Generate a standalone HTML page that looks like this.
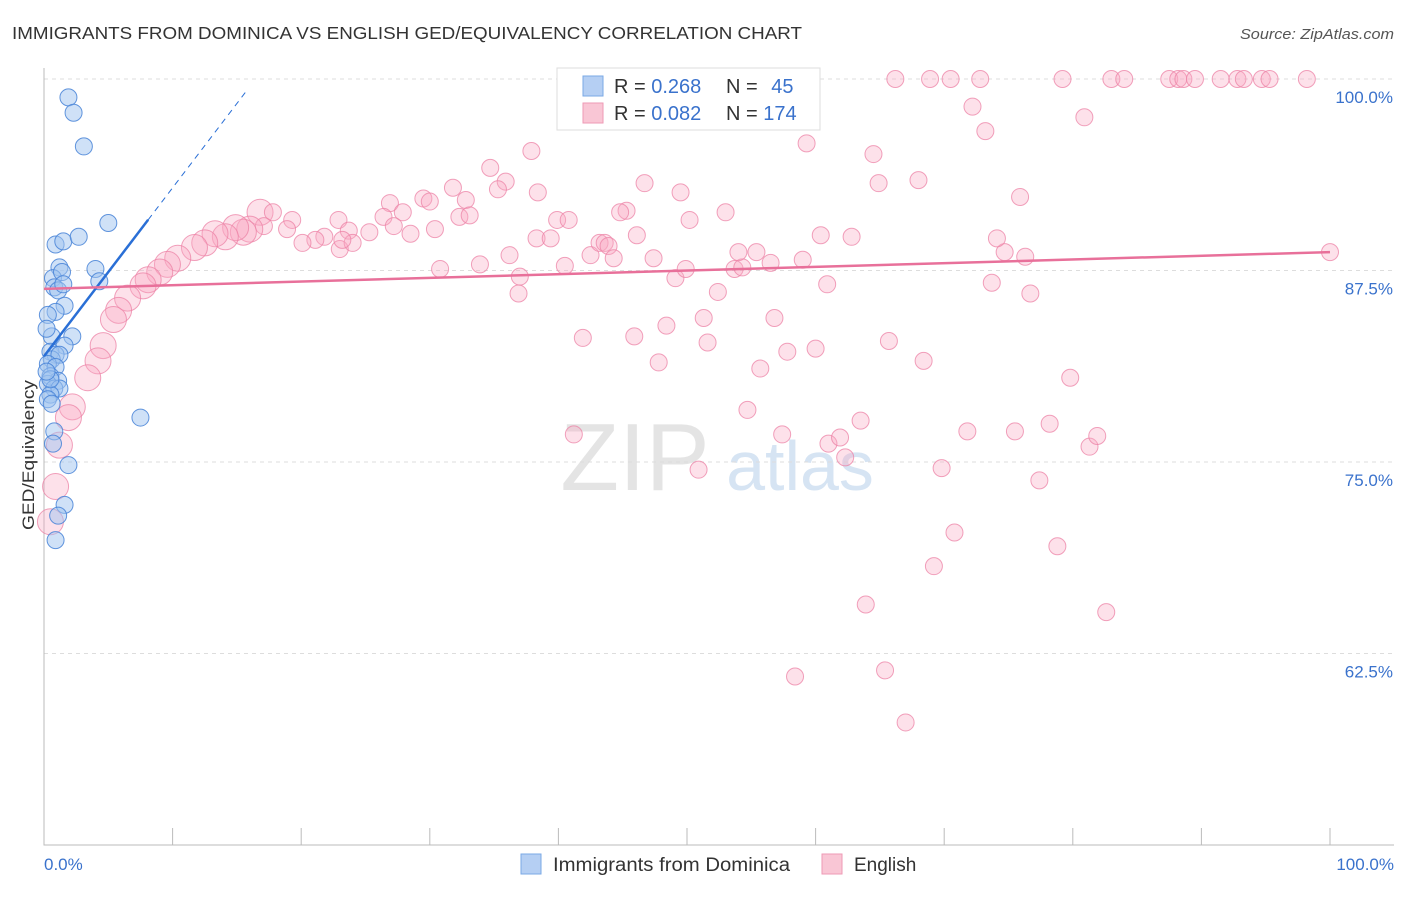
<!DOCTYPE html>
<html><head><meta charset="utf-8"><style>
body{margin:0;background:#fff;font-family:"Liberation Sans",sans-serif}
svg text{font-family:"Liberation Sans",sans-serif}
</style></head><body>
<svg id="chart" width="1406" height="892" xmlns="http://www.w3.org/2000/svg">
<text x="12" y="39" font-size="17.5" fill="#333" textLength="790" lengthAdjust="spacingAndGlyphs">IMMIGRANTS FROM DOMINICA VS ENGLISH GED/EQUIVALENCY CORRELATION CHART</text>
<text x="1394" y="39" font-size="14.5" fill="#555" text-anchor="end" font-style="italic" textLength="154" lengthAdjust="spacingAndGlyphs">Source: ZipAtlas.com</text>
<text x="34" y="455" font-size="17" fill="#333" text-anchor="middle" transform="rotate(-90 34 455)" textLength="150" lengthAdjust="spacingAndGlyphs">GED/Equivalency</text>
<g><text x="635" y="490" font-size="96" fill="#e4e4e4" font-family="Liberation Serif" text-anchor="middle">ZIP</text><text x="800" y="490" font-size="70" fill="#d6e4f3" text-anchor="middle">atlas</text></g>
<g id="grid"></g><g id="axes"></g><g id="pts"></g><g id="trend"></g>
<g>
<rect x="557" y="68" width="263" height="62" fill="#fff" stroke="#ddd"/>
<rect x="583" y="76" width="20" height="20" fill="#b5cff3" stroke="#7aa8e6"/>
<rect x="583" y="103" width="20" height="20" fill="#f9c6d5" stroke="#ee9ab5"/>
<text x="614" y="93" font-size="20" fill="#333">R = <tspan fill="#3a72cc">0.268</tspan></text>
<text x="726" y="93" font-size="20" fill="#333">N = <tspan fill="#3a72cc" dx="8">45</tspan></text>
<text x="614" y="120" font-size="20" fill="#333">R = <tspan fill="#3a72cc">0.082</tspan></text>
<text x="726" y="120" font-size="20" fill="#333">N = <tspan fill="#3a72cc">174</tspan></text>
</g>
<g>
<rect x="521" y="854" width="20" height="20" fill="#b5cff3" stroke="#7aa8e6"/>
<text x="553" y="871" font-size="19" fill="#333" textLength="237" lengthAdjust="spacingAndGlyphs">Immigrants from Dominica</text>
<rect x="822" y="854" width="20" height="20" fill="#f9c6d5" stroke="#ee9ab5"/>
<text x="854" y="871" font-size="19" fill="#333">English</text>
</g>
</svg>
<script>
const yTicks=[100,87.5,75,62.5];
const yTickLabels=["100.0%","87.5%","75.0%","62.5%"];
const xTickLabels=["0.0%","100.0%"];
const blueX=[1.9,2.3,3.1,5.0,0.9,1.5,2.7,4.0,1.2,0.7,1.4,4.3,0.8,1.1,1.5,1.6,0.9,0.3,0.6,2.2,1.6,0.5,0.9,0.6,1.2,0.3,0.9,0.5,1.1,0.3,0.8,1.2,0.5,0.3,0.6,7.5,0.8,0.7,1.9,1.6,1.1,0.9,0.5,0.2,0.2];
const blueY=[98.8,97.8,95.6,90.6,89.2,89.4,89.7,87.6,87.7,87.0,87.4,86.8,86.4,86.2,86.6,85.2,84.8,84.6,83.2,83.2,82.6,82.2,82.0,81.7,82.0,81.4,81.2,80.6,80.3,80.1,79.8,79.8,79.4,79.1,78.8,77.9,77.0,76.2,74.8,72.2,71.5,69.9,80.4,80.9,83.7];
const pinkX=[66.2,68.9,70.5,72.8,79.2,83.0,84.0,87.5,88.2,88.6,89.5,91.5,92.8,93.3,94.7,95.3,98.2,
72.2,73.2,80.9,59.3,64.5,64.9,68.0,75.9,53.0,50.2,46.7,49.5,45.3,44.8,37.9,34.7,35.9,35.3,31.8,32.8,32.3,33.1,38.4,39.9,40.8,29.5,30.0,26.9,27.9,26.4,27.2,28.5,30.4,22.9,23.7,25.3,23.0,24.0,21.8,23.2,21.1,20.1,19.3,18.9,16.8,17.8,17.1,16.0,15.5,14.9,14.1,13.3,12.5,11.7,10.4,9.6,9.0,8.1,7.7,6.5,5.8,5.4,4.6,4.2,3.4,2.2,1.9,1.2,0.9,0.5,
36.2,37.0,38.3,39.4,40.5,42.5,43.2,43.6,43.9,44.3,46.1,47.4,49.1,49.9,52.4,53.7,54.3,54.0,55.4,56.5,59.0,60.4,62.8,60.9,73.7,76.7,74.7,76.3,74.1,30.8,33.9,36.9,41.9,45.9,48.4,51.3,51.6,47.8,55.7,56.8,57.8,60.0,54.7,57.4,61.0,61.9,62.3,63.5,65.7,68.4,71.8,75.5,78.2,81.3,81.9,79.8,41.2,50.9,69.8,77.4,70.8,78.8,69.2,63.9,82.6,58.4,65.4,67.0,100];
const pinkY=[100,100,100,100,100,100,100,100,100,100,100,100,100,100,100,100,100,
98.2,96.6,97.5,95.8,95.1,93.2,93.4,92.3,91.3,90.8,93.2,92.6,91.4,91.3,95.3,94.2,93.3,92.8,92.9,92.1,91.0,91.1,92.6,90.8,90.8,92.2,92.0,91.9,91.3,91.0,90.4,89.9,90.2,90.8,90.1,90.0,88.9,89.3,89.7,89.5,89.5,89.3,90.8,90.2,91.3,91.3,90.4,90.2,90.0,90.3,89.7,89.9,89.3,89.0,88.3,87.9,87.4,86.9,86.5,85.7,84.9,84.3,82.6,81.6,80.5,78.6,77.9,76.1,73.4,71.1,
88.5,87.1,89.6,89.6,87.8,88.5,89.3,89.3,89.1,88.3,89.8,88.3,87.0,87.6,86.1,87.6,87.7,88.7,88.7,88.0,88.2,89.8,89.7,86.6,86.7,86.0,88.7,88.4,89.6,87.6,87.9,86.0,83.1,83.2,83.9,84.4,82.8,81.5,81.1,84.4,82.2,82.4,78.4,76.8,76.2,76.6,75.3,77.7,82.9,81.6,77.0,77.0,77.5,76.0,76.7,80.5,76.8,74.5,74.6,73.8,70.4,69.5,68.2,65.7,65.2,61.0,61.4,58.0,88.7];
const blueTrend=[81.9,1.1];
const pinkTrend=[86.3,0.024];
const X0=44,X1=1330,YT=79,YB=845;
const sx=v=>X0+(X1-X0)*v/100;
const sy=v=>YT+(YB-YT)*(100-v)/50;
const NS="http://www.w3.org/2000/svg";
function mk(p,t,a){const e=document.createElementNS(NS,t);for(const k in a)e.setAttribute(k,a[k]);document.getElementById(p).appendChild(e);return e;}
yTicks.forEach((v,i)=>{
 const l=mk('grid','line',{x1:X0,x2:1394,y1:sy(v),y2:sy(v),stroke:'#ddd','stroke-dasharray':'4,4'});
 
 
 const t=mk('grid','text',{x:1393,y:sy(v)+24,'font-size':17,fill:'#3a72cc','text-anchor':'end'});
 t.textContent=yTickLabels[i];
 
 
});
const ax=mk('axes','path',{d:`M${X0} 68V${YB}H1394`,stroke:'#bbb',fill:'none'});


for(let i=0;i<=10;i++){const t=mk('axes','line',{x1:sx(i*10),x2:sx(i*10),y1:828,y2:YB,stroke:'#bbb'});
 
 }
const xl0=mk('axes','text',{x:44,y:870,'font-size':17,fill:'#3a72cc'});xl0.textContent=xTickLabels[0];


const xl1=mk('axes','text',{x:1394,y:870,'font-size':17,fill:'#3a72cc','text-anchor':'end'});xl1.textContent=xTickLabels[1];


pinkX.forEach((x,i)=>{const c=mk('pts','circle',{cx:sx(x),cy:sy(pinkY[i]),r:x<17?13:8.5,fill:'rgba(248,170,195,0.35)',stroke:'rgba(236,130,165,0.75)','stroke-width':1});
 
 });
blueX.forEach((x,i)=>{const c=mk('pts','circle',{cx:sx(x),cy:sy(blueY[i]),r:8.5,fill:'rgba(160,196,240,0.5)',stroke:'rgba(70,130,215,0.85)','stroke-width':1});
 
 });
const bt=x=>blueTrend[0]+blueTrend[1]*x, pt=x=>pinkTrend[0]+pinkTrend[1]*x;
const b1=mk('trend','line',{x1:sx(0),y1:sy(bt(0)),x2:sx(8.1),y2:sy(bt(8.1)),stroke:'#2a6fd6','stroke-width':2.5});


const b2=mk('trend','line',{x1:sx(8.1),y1:sy(bt(8.1)),x2:sx(15.8),y2:sy(bt(15.8)),stroke:'#2a6fd6','stroke-width':1,'stroke-dasharray':'6,5'});


const p1=mk('trend','line',{x1:sx(0),y1:sy(pt(0)),x2:sx(100),y2:sy(pt(100)),stroke:'#e8709a','stroke-width':2.5});


</script>
</body></html>
